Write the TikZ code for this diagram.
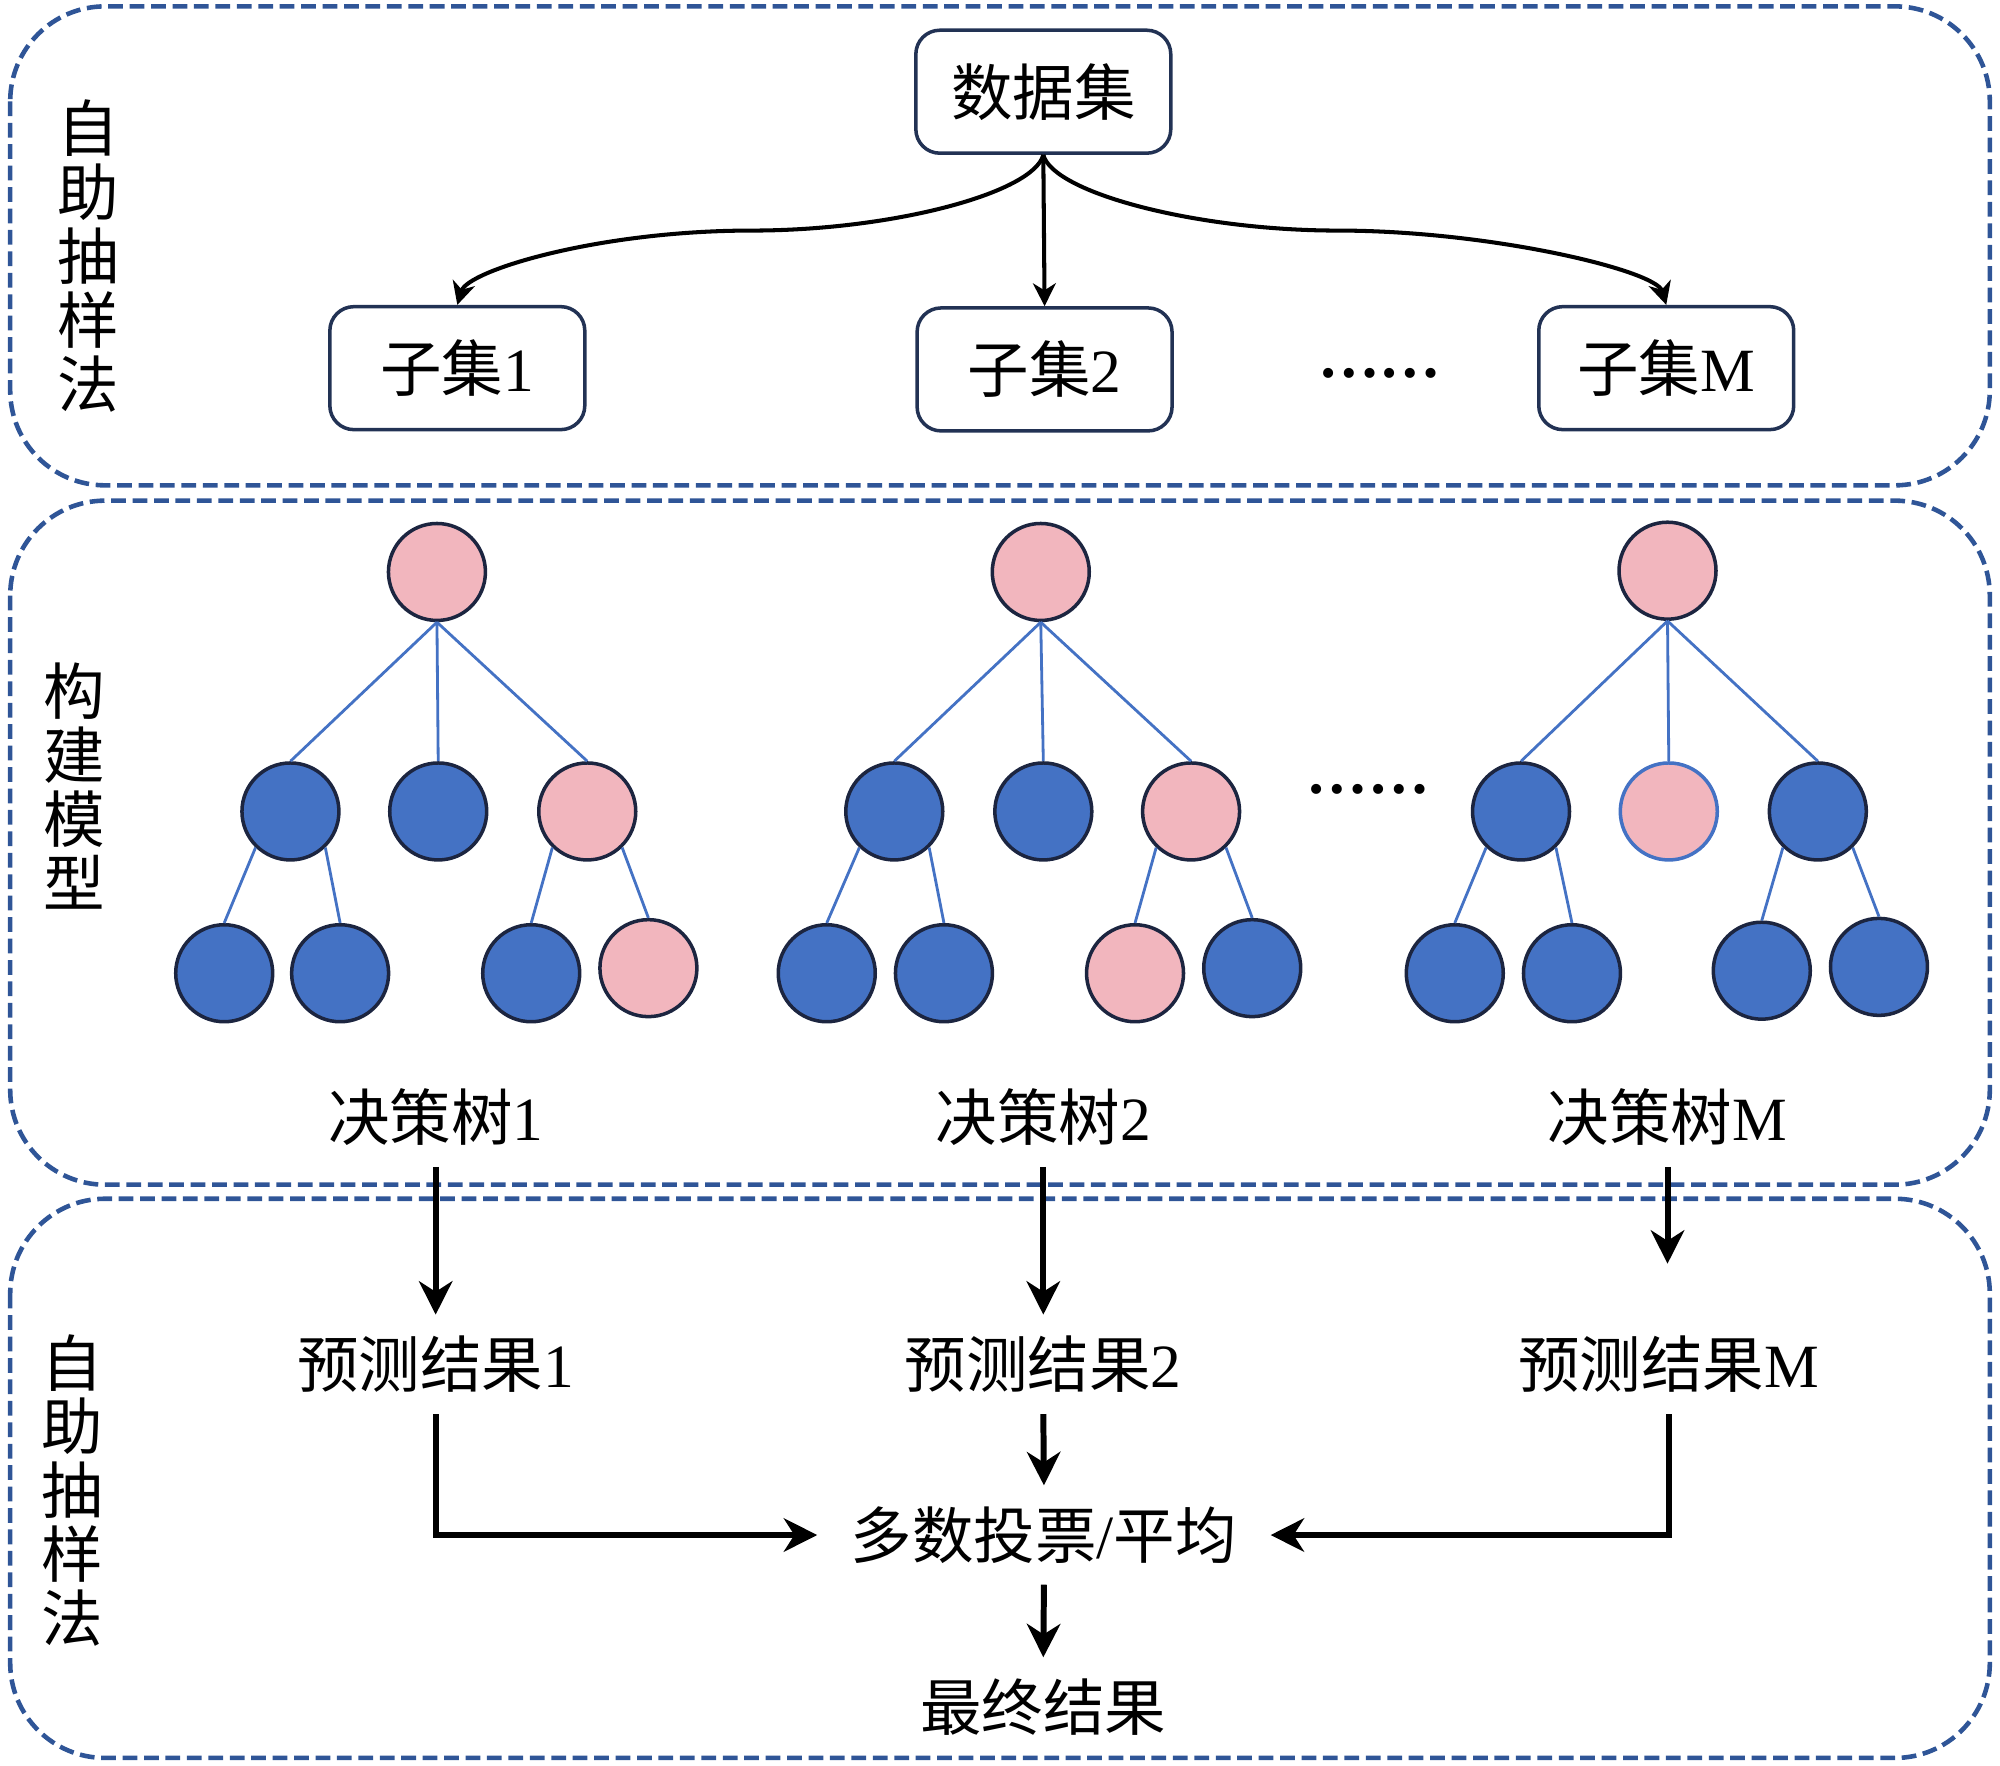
\documentclass[tikz,border=0pt]{standalone}
\usepackage{fontspec}
\setmainfont{Liberation Serif}
\newfontfamily\cjk{Noto Sans CJK SC}
\usetikzlibrary{arrows.meta}
\definecolor{frameblue}{HTML}{2F5597}
\definecolor{boxnavy}{HTML}{223254}
\definecolor{nodenavy}{HTML}{1C2540}
\definecolor{leafblue}{HTML}{4472C4}
\definecolor{leafpink}{HTML}{F2B6BE}
\def\lblfont{\fontsize{17.5pt}{18.2pt}\selectfont}
\tikzset{
	panel/.style={draw=frameblue, line width=1.3pt, dash pattern=on 4.2pt off 1.9pt, rounded corners=0.95cm},
	setbox/.style={draw=boxnavy, line width=1pt, rounded corners=0.24cm, minimum width=2.55cm, minimum height=1.23cm, inner sep=0pt, font=\lblfont},
	bluenode/.style={circle, draw=nodenavy, fill=leafblue, line width=1pt, minimum size=0.97cm, inner sep=0pt},
	pinknode/.style={bluenode, fill=leafpink},
	branch/.style={draw=leafblue, line width=0.8pt},
	txt/.style={font=\lblfont, inner sep=0pt, text height=15.4pt, text depth=2.1pt, minimum height=0.98cm},
	side/.style={font=\lblfont, align=center, inner sep=0pt},
	dotsrow/.style={font=\lblfont\bfseries, inner sep=0pt, anchor=base},
	thinarrow/.style={-{Stealth[length=6.5pt,width=6.5pt,inset=2pt]}, line width=1.15pt},
	fatarrow/.style={-{Stealth[length=9.5pt,width=9.5pt,inset=3pt]}, line width=1.7pt},
}

\begin{document}
\begin{tikzpicture}[x=0.01274cm, y=-0.01274cm]
			\useasboundingbox (0,0) rectangle (1570,1386);
			
			%%%%% PANELS %%%%%
			\draw[panel] (8,5) rectangle (1562,381);
			\draw[panel] (8,393) rectangle (1562,930);
			\draw[panel] (8,941) rectangle (1562,1380);
			
			\node[side] (lab1) at (69,201) {\cjk 自\\\cjk 助\\\cjk 抽\\\cjk 样\\\cjk 法};
			\node[side] (lab2) at (58,617) {\cjk 构\\\cjk 建\\\cjk 模\\\cjk 型};
			\node[side] (lab3) at (57,1170) {\cjk 自\\\cjk 助\\\cjk 抽\\\cjk 样\\\cjk 法};
			
			%%%%% SAMPLING %%%%%
			\node[setbox] (data) at (819,72) {\cjk 数据集};
			\node[setbox] (s1) at (359,289) {{\cjk 子集}1};
			\node[setbox] (s2) at (820,290) {{\cjk 子集}2};
			\node[setbox] (sM) at (1308,289) {{\cjk 子集}M};
			\node[dotsrow] (dots1) at (1083,296) {……};
			
			\coordinate (m1) at (590,181);
			\coordinate (mM) at (1050,181);
			\draw[thinarrow] (data.south) .. controls +(-8,30) and +(110,0) .. (m1) .. controls +(-120,0) and +(8,-27) .. (s1.north);
			\draw[thinarrow] (data.south) -- (s2.north);
			\draw[thinarrow] (data.south) .. controls +(8,30) and +(-110,0) .. (mM) .. controls +(120,0) and +(-8,-27) .. (sM.north);
			
			%%%%% TREES %%%%%
			\node[pinknode] (r1) at (343,449) {};
			\node[bluenode] (a1) at (228,637) {};
			\node[bluenode] (b1) at (344,637) {};
			\node[pinknode] (c1) at (461,637) {};
			\node[bluenode] (a1l) at (176,764) {};
			\node[bluenode] (a1r) at (267,764) {};
			\node[bluenode] (c1l) at (417,764) {};
			\node[pinknode] (c1r) at (509,760) {};
			
			\node[pinknode] (r2) at (817,449) {};
			\node[bluenode] (a2) at (702,637) {};
			\node[bluenode] (b2) at (819,637) {};
			\node[pinknode] (c2) at (935,637) {};
			\node[bluenode] (a2l) at (649,764) {};
			\node[bluenode] (a2r) at (741,764) {};
			\node[pinknode] (c2l) at (891,764) {};
			\node[bluenode] (c2r) at (983,760) {};
			
			\node[pinknode] (r3) at (1309,448) {};
			\node[bluenode] (a3) at (1194,637) {};
			\node[pinknode, draw=leafblue] (b3) at (1310,637) {};
			\node[bluenode] (c3) at (1427,637) {};
			\node[bluenode] (a3l) at (1142,764) {};
			\node[bluenode] (a3r) at (1234,764) {};
			\node[bluenode] (c3l) at (1383,762) {};
			\node[bluenode] (c3r) at (1475,759) {};
			
			\draw[branch] (r1.south) -- (a1.north);
			\draw[branch] (r1.south) -- (b1.north);
			\draw[branch] (r1.south) -- (c1.north);
			\draw[branch] (a1.-134) -- (a1l.north);
			\draw[branch] (a1.-46) -- (a1r.north);
			\draw[branch] (c1.-134) -- (c1l.north);
			\draw[branch] (c1.-46) -- (c1r.north);
			
			\draw[branch] (r2.south) -- (a2.north);
			\draw[branch] (r2.south) -- (b2.north);
			\draw[branch] (r2.south) -- (c2.north);
			\draw[branch] (a2.-134) -- (a2l.north);
			\draw[branch] (a2.-46) -- (a2r.north);
			\draw[branch] (c2.-134) -- (c2l.north);
			\draw[branch] (c2.-46) -- (c2r.north);
			
			\draw[branch] (r3.south) -- (a3.north);
			\draw[branch] (r3.south) -- (b3.north);
			\draw[branch] (r3.south) -- (c3.north);
			\draw[branch] (a3.-134) -- (a3l.north);
			\draw[branch] (a3.-46) -- (a3r.north);
			\draw[branch] (c3.-134) -- (c3l.north);
			\draw[branch] (c3.-46) -- (c3r.north);
			
			\node[dotsrow] (dots2) at (1074,623) {……};
			
			\node[txt] (t1) at (342,877) {{\cjk 决策树}1};
			\node[txt] (t2) at (819,877) {{\cjk 决策树}2};
			\node[txt] (tM) at (1309,877) {{\cjk 决策树}M};
			
			%%%%% VOTING %%%%%
			\node[txt] (p1) at (342,1071) {{\cjk 预测结果}1};
			\node[txt] (p2) at (819,1071) {{\cjk 预测结果}2};
			\node[txt] (pM) at (1310,1071) {{\cjk 预测结果}M};
			\node[txt, inner xsep=0.33cm] (vote) at (819.5,1205) {{\cjk 多数投票}/{\cjk 平均}};
			\node[txt] (fin) at (819,1340) {\cjk 最终结果};
			
			\coordinate (tMend) at (1309,992);
			\draw[fatarrow] (t1.south) -- (p1.north);
			\draw[fatarrow] (t2.south) -- (p2.north);
			\draw[fatarrow] (tM.south) -- (tMend);
			
			\draw[fatarrow] (p1.south) |- (vote.west);
			\draw[fatarrow] (p2.south) -- (vote.north);
			\draw[fatarrow] (pM.south) |- (vote.east);
			\draw[fatarrow] (vote.south) -- (fin.north);
\end{tikzpicture}
\end{document}
